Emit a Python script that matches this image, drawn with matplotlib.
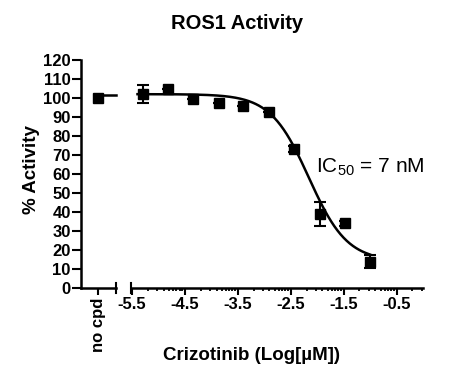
import numpy as np
import matplotlib
matplotlib.use("Agg")
import matplotlib.pyplot as plt

plt.rcParams["font.family"] = ["Liberation Sans", "DejaVu Sans"]

# data
log_conc = [-5.29, -4.82, -4.34, -3.86, -3.39, -2.91, -2.43, -1.95, -1.48, -1.00]
activity = [102.0, 104.6, 99.3, 97.5, 95.8, 92.8, 73.0, 38.8, 33.9, 13.7]
sem = [4.7, 0.0, 0.0, 0.0, 0.0, 0.0, 1.5, 6.5, 1.5, 3.5]

no_cpd_activity = 100.0

# four-parameter fit shown on the chart
curve_top = 102.0
curve_bottom = 14.0
log_ic50 = -2.155
hill = 1.2

y_ticks = list(range(0, 121, 10))
x_major = [-5.5, -4.5, -3.5, -2.5, -1.5, -0.5]

# x position used for the "no cpd" group (left of the axis break)
no_cpd_x = -6.13

fig = plt.figure(figsize=(4.61, 3.72), dpi=100)
ax = fig.add_axes([80.5 / 461, 84.3 / 372, 342.5 / 461, 227.7 / 372])

ax.set_xlim(-6.466, 0.0)
ax.set_ylim(0, 120)

# fitted curve
xs = np.linspace(-5.39, -1.0, 300)
ys = curve_bottom + (curve_top - curve_bottom) / (1 + 10 ** (hill * (xs - log_ic50)))
ax.plot(xs, ys, color="black", lw=1.8, zorder=2)
ax.plot([no_cpd_x, -5.80], [curve_top - 0.5, curve_top - 0.5], color="black", lw=1.8, zorder=2)

# points
ax.errorbar(log_conc, activity, yerr=sem, fmt="s", color="black", ms=6.5,
            elinewidth=1.5, capsize=4.3, capthick=1.5, zorder=3)
ax.plot([no_cpd_x], [no_cpd_activity], "s", color="black", ms=6.5, zorder=3)

# axes styling
for side in ["top", "right", "bottom"]:
    ax.spines[side].set_visible(False)
ax.spines["left"].set_linewidth(1.8)

# broken x axis drawn by hand
xlim = ax.get_xlim()
ax.plot([xlim[0], -5.80], [0, 0], color="black", lw=1.8, clip_on=False, zorder=4)
ax.plot([-5.51, xlim[1]], [0, 0], color="black", lw=1.8, clip_on=False, zorder=4)
for cap_x in [-5.80, -5.51]:
    ax.plot([cap_x, cap_x], [-2.7, 2.7], color="black", lw=1.5, clip_on=False, zorder=4)

ax.set_yticks(y_ticks)
ax.set_yticklabels([str(v) for v in y_ticks], fontsize=12, fontweight="bold")
ax.tick_params(axis="y", length=6.5, width=1.5, pad=0.5)

ax.set_xticks([no_cpd_x] + x_major)
ax.set_xticklabels(["no cpd"] + [f"{v:.1f}" for v in x_major], fontsize=12, fontweight="bold")
ax.get_xticklabels()[0].set_rotation(90)

minor = []
for start in x_major:
    for k in range(2, 10):
        pos = start + np.log10(k)
        if pos <= 0.0:
            minor.append(pos)
ax.set_xticks(minor, minor=True)
ax.tick_params(axis="x", which="major", length=5, width=1.5, pad=2)
ax.tick_params(axis="x", which="minor", length=2.5, width=1.3)

ax.text(-2.02, 61, r"IC$_\mathregular{50}$ = 7 nM", fontsize=15, ha="left", va="baseline")

fig.text(237 / 461, 1 - 29 / 372, "ROS1 Activity", fontsize=14.5, fontweight="bold",
         ha="center", va="baseline")
fig.text(32 / 461, 1 - 170 / 372, "% Activity", fontsize=13.5, fontweight="bold",
         rotation=90, ha="center", va="center")
fig.text(251 / 461, 1 - 355 / 372, "Crizotinib (Log[\u00b5M])", fontsize=13.5,
         fontweight="bold", ha="center", va="center")

fig.savefig("out.png", dpi=100)
